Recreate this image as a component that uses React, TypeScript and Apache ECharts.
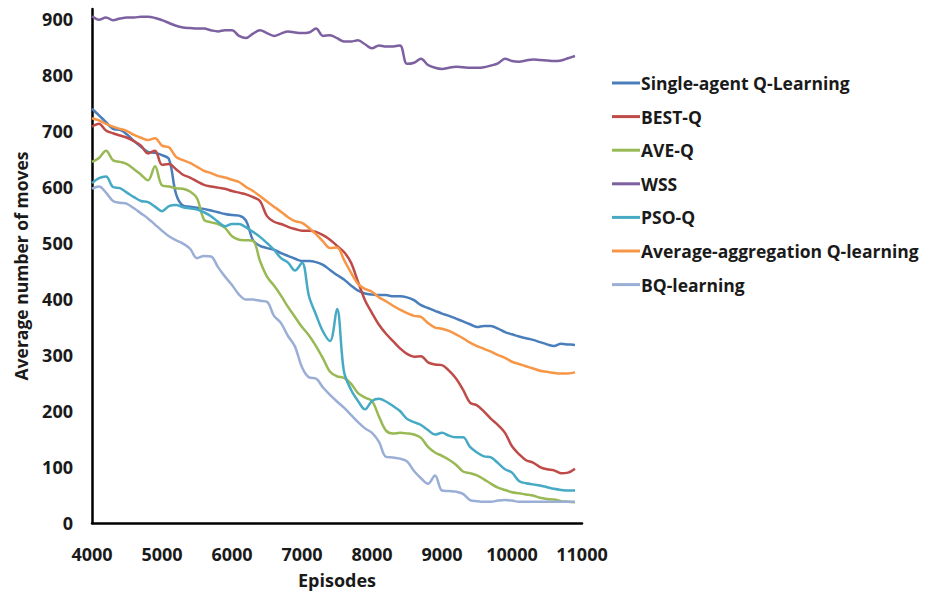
import React, { useEffect, useRef } from "react";
import * as echarts from "echarts";

const episodes: number[] = Array.from({ length: 70 }, (_, i) => 4000 + i * 100);

const seriesNames = [
  "Single-agent Q-Learning",
  "BEST-Q",
  "AVE-Q",
  "WSS",
  "PSO-Q",
  "Average-aggregation Q-learning",
  "BQ-learning",
];

const singleAgent = [
  740, 728, 716, 704, 702, 694, 682, 672, 663, 661, 657, 650, 588, 567, 565, 563, 561, 558, 555, 552,
  550, 549, 540, 505, 495, 491, 488, 482, 477, 472, 468, 468, 466, 461, 452, 443, 435, 424, 415, 410,
  408, 407, 407, 405, 405, 403, 398, 389, 384, 379, 374, 370, 365, 360, 355, 350, 352, 352, 347, 341,
  337, 333, 330, 327, 323, 319, 316, 320, 319, 318,
];

const bestQ = [
  708, 713, 701, 696, 692, 688, 682, 674, 660, 665, 640, 641, 632, 622, 617, 610, 604, 601, 599, 597,
  593, 590, 587, 582, 575, 548, 538, 534, 529, 525, 522, 522, 520, 514, 506, 495, 484, 465, 431, 398,
  375, 354, 338, 325, 312, 302, 297, 298, 287, 283, 282, 272, 258, 238, 215, 210, 199, 186, 175, 161,
  137, 123, 112, 108, 100, 96, 94, 89, 90, 97,
];

const aveQ = [
  645, 652, 665, 648, 645, 641, 632, 622, 612, 637, 603, 601, 598, 597, 592, 580, 542, 537, 534, 527,
  512, 506, 505, 504, 468, 440, 424, 406, 386, 368, 350, 335, 316, 294, 270, 262, 259, 249, 232, 224,
  218, 190, 165, 160, 161, 160, 158, 152, 136, 126, 120, 113, 104, 92, 89, 85, 78, 70, 63, 59,
  55, 53, 51, 49, 45, 43, 42, 39, 38, 37,
];

const wss = [
  905, 899, 903, 898, 901, 903, 903, 904, 904, 902, 898, 893, 888, 885, 884, 883, 883, 880, 878, 880,
  880, 870, 866, 874, 880, 875, 870, 874, 878, 876, 875, 876, 883, 870, 871, 866, 860, 860, 862, 855,
  848, 853, 851, 851, 853, 820, 822, 829, 818, 813, 811, 813, 815, 814, 813, 813, 814, 817, 821, 829,
  825, 824, 826, 828, 827, 826, 825, 826, 830, 834,
];

const psoQ = [
  607, 616, 619, 600, 598, 590, 582, 575, 573, 565, 557, 566, 568, 564, 562, 560, 555, 548, 538, 530,
  534, 534, 528, 520, 511, 500, 488, 473, 465, 451, 465, 405, 372, 342, 325, 382, 270, 238, 218, 203,
  218, 222, 217, 209, 200, 186, 180, 175, 166, 158, 161, 156, 153, 153, 136, 126, 119, 117, 107, 96,
  90, 75, 71, 69, 67, 64, 61, 59, 58, 58,
];

const avgAggregation = [
  723, 719, 713, 708, 704, 700, 693, 688, 684, 687, 674, 671, 654, 648, 643, 636, 629, 625, 620, 617,
  613, 609, 600, 593, 584, 574, 565, 556, 546, 539, 536, 527, 516, 503, 491, 492, 470, 447, 427, 418,
  413, 403, 396, 388, 381, 375, 370, 368, 357, 349, 347, 343, 337, 330, 322, 316, 311, 306, 300, 295,
  288, 284, 280, 276, 272, 270, 268, 267, 267, 269,
];

const bqLearning = [
  597, 601, 590, 575, 572, 570, 562, 553, 544, 533, 522, 512, 505, 499, 490, 473, 477, 476, 457, 440,
  425, 408, 399, 399, 397, 395, 370, 357, 334, 315, 278, 260, 258, 242, 229, 217, 206, 193, 180, 169,
  161, 145, 118, 117, 115, 110, 93, 80, 70, 85, 58, 57, 56, 52, 41, 39, 38, 38, 40, 41,
  40, 38, 38, 38, 38, 38, 38, 38, 38, 38,
];

const seriesValues = [singleAgent, bestQ, aveQ, wss, psoQ, avgAggregation, bqLearning];
const colors = ["#4A7EBB", "#BE4B48", "#98B954", "#7D60A0", "#46AAC5", "#F79646", "#9AAED6"];

const FONT = "Open Sans";

export default function App() {
  const ref = useRef<HTMLDivElement>(null);
  useEffect(() => {
    if (!ref.current) return;
    const chart = echarts.init(ref.current, null, { renderer: "svg" });
    chart.setOption({
      animation: false,
      backgroundColor: "#ffffff",
      textStyle: { fontFamily: FONT },
      grid: { left: 92, right: 343, top: 9, bottom: 66, containLabel: false },
      legend: {
        orient: "vertical",
        left: 612,
        top: 74,
        padding: 0,
        icon: "rect",
        itemWidth: 28,
        itemHeight: 3,
        itemGap: 15.6,
        textStyle: {
          fontFamily: FONT,
          fontWeight: "bold",
          fontSize: 17.5,
          color: "#1a1a1a",
          padding: [0, 0, 0, -4],
        },
        data: seriesNames,
      },
      xAxis: {
        type: "value",
        min: 4000,
        max: 11000,
        interval: 1000,
        name: "Episodes",
        nameLocation: "middle",
        nameGap: 48,
        nameTextStyle: { fontFamily: FONT, fontWeight: "bold", fontSize: 18, color: "#1a1a1a" },
        axisLine: { onZero: false, lineStyle: { color: "#000", width: 2.5 } },
        axisTick: { show: false },
        splitLine: { show: false },
        axisLabel: {
          fontFamily: FONT,
          fontWeight: "bold",
          fontSize: 18,
          color: "#1a1a1a",
          margin: 22,
          formatter: (v: number) => String(v),
        },
      },
      yAxis: {
        type: "value",
        min: 0,
        max: 918,
        interval: 100,
        name: "Average number of moves",
        nameLocation: "middle",
        nameGap: 62,
        nameTextStyle: { fontFamily: FONT, fontWeight: "bold", fontSize: 17.5, color: "#1a1a1a" },
        axisLine: { show: true, lineStyle: { color: "#000", width: 2.5 } },
        axisTick: { show: false },
        splitLine: { show: false },
        axisLabel: {
          fontFamily: FONT,
          fontWeight: "bold",
          fontSize: 18,
          color: "#1a1a1a",
          margin: 19,
          showMaxLabel: false,
          formatter: (v: number) => String(v),
        },
      },
      series: seriesNames.map((name, i) => ({
        name,
        type: "line",
        smooth: 0.35,
        symbol: "none",
        showSymbol: false,
        color: colors[i],
        lineStyle: { color: colors[i], width: 2.5 },
        data: episodes.map((ep, j) => [ep, seriesValues[i][j]]),
      })),
    });
    return () => chart.dispose();
  }, []);
  return (
    <div
      ref={ref}
      style={{ position: "fixed", left: 0, top: 0, width: 925, height: 594 }}
    />
  );
}
